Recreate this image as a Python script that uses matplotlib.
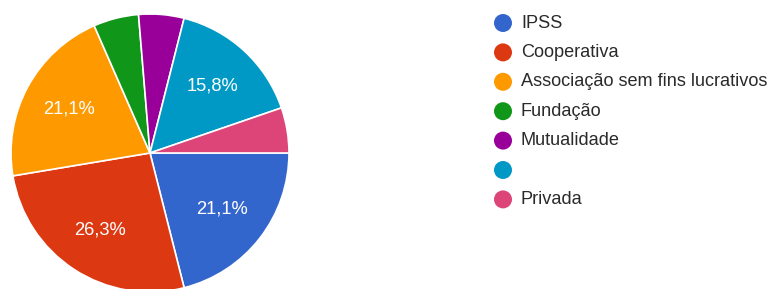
import matplotlib
matplotlib.use("Agg")
import matplotlib.pyplot as plt

categories = ["IPSS", "Cooperativa", "Associação sem fins lucrativos", "Fundação",
              "Mutualidade", "", "Privada"]
counts = [4, 5, 4, 1, 1, 3, 1]
colors = ["#3366CC", "#DC3912", "#FF9900", "#109618", "#990099", "#0099C6", "#DD4477"]

plt.rcParams['font.family'] = ['Liberation Sans', 'DejaVu Sans']

W, H = 773, 289
fig = plt.figure(figsize=(W / 100, H / 100), dpi=100)

cx, cy, r = 150, 153, 139
ax = fig.add_axes([(cx - r) / W, (H - cy - r) / H, 2 * r / W, 2 * r / H])

def fmt(p):
    if p < 10:
        return ""
    return f"{p:.1f}%".replace(".", ",")

wedges, texts, autotexts = ax.pie(
    counts, colors=colors, startangle=0, counterclock=False,
    autopct=fmt, pctdistance=0.66, radius=1.0,
    wedgeprops=dict(edgecolor="white", linewidth=1.2),
    textprops=dict(color="white", fontsize=13.2))
ax.set_xlim(-1, 1)
ax.set_ylim(-1, 1)
ax.set_aspect("equal")
ax.axis("off")

# legend
lx, ly0, step = 503, 23, 29.4
for i, (lab, col) in enumerate(zip(categories, colors)):
    y = ly0 + i * step
    fig.patches.append(matplotlib.patches.Ellipse(
        (lx / W, 1 - y / H), 18 / W, 18 / H, transform=fig.transFigure,
        facecolor=col, edgecolor="none"))
    fig.text(521 / W, 1 - y / H, lab, fontsize=13.1, color="#2a2a2a",
             va="center", ha="left")

fig.savefig("out.png", dpi=100)
